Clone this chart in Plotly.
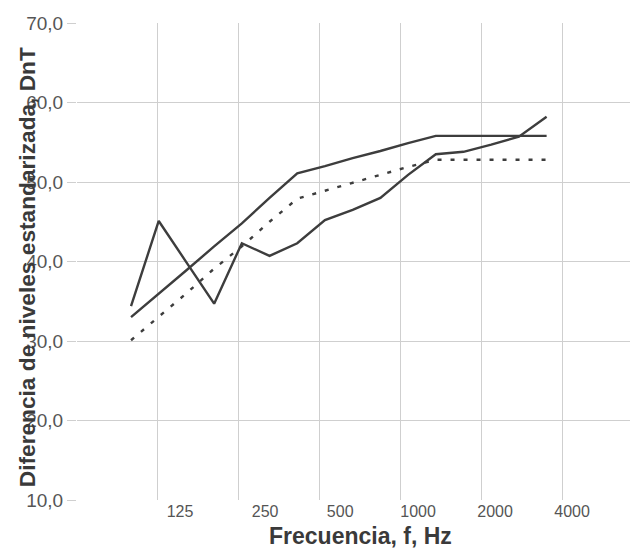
import plotly.graph_objects as go

# Third-octave band index (100 Hz ... 3150 Hz)
bands = ["100", "125", "160", "200", "250", "315", "400", "500",
         "630", "800", "1000", "1250", "1600", "2000", "2500", "3150"]
band_idx = list(range(len(bands)))

# Series values (dB)
medida_a = [34.4, 45.1, 39.9, 34.7, 42.3, 40.7, 42.3, 45.2,
            46.5, 48.0, 50.9, 53.5, 53.8, 54.7, 55.7, 58.2]
medida_b = [33.0, 35.9, 38.9, 41.9, 44.8, 48.0, 51.1, 52.0,
            53.0, 53.9, 54.9, 55.8, 55.8, 55.8, 55.8, 55.8]
referencia = [30.1, 33.0, 36.0, 39.1, 41.9, 45.0, 47.9, 48.9,
              49.9, 50.9, 51.9, 52.8, 52.8, 52.8, 52.8, 52.8]

# Axis tick labels (octave labels as printed under the chart)
xtick_text = ["125", "250", "500", "1000", "2000", "4000"]
xtick_pos = [1.77, 4.84, 7.55, 10.36, 13.14, 15.92]
y_ticks = [10, 20, 30, 40, 50, 60, 70]

FONT = "Liberation Sans, Arial, sans-serif"
LINE = "#3d3d3d"
GRID = "#cfcfcf"
XR = [-1.95, 18.01]

fig = go.Figure()
fig.add_trace(go.Scatter(x=band_idx, y=medida_a, mode="lines",
                         line=dict(color=LINE, width=2.4), showlegend=False))
fig.add_trace(go.Scatter(x=band_idx, y=medida_b, mode="lines",
                         line=dict(color=LINE, width=2.4), showlegend=False))
fig.add_trace(go.Scatter(x=band_idx, y=referencia, mode="lines",
                         line=dict(color=LINE, width=2.4, dash="4px,9px"),
                         showlegend=False))
# invisible trace to activate the label axis
fig.add_trace(go.Scatter(x=[XR[0]], y=[None], xaxis="x2", mode="lines",
                         showlegend=False, hoverinfo="skip"))

fig.update_layout(
    width=630, height=548,
    margin=dict(l=77, r=0, t=23, b=48),
    paper_bgcolor="white", plot_bgcolor="white",
    separators=", ",
    font=dict(family=FONT, color="#555555"),
    xaxis=dict(range=XR, tick0=XR[0], dtick=2.92, showticklabels=False,
               showgrid=True, gridcolor=GRID, gridwidth=1, zeroline=False,
               showline=False, ticks=""),
    xaxis2=dict(range=XR, overlaying="x", side="bottom", anchor="y",
                tickmode="array", tickvals=xtick_pos, ticktext=xtick_text,
                showgrid=False, zeroline=False, showline=False, ticks="",
                tickfont=dict(size=16, color="#555555")),
    yaxis=dict(range=[10, 70], tickmode="array", tickvals=y_ticks,
               tickformat=".1f", showgrid=True, gridcolor=GRID, gridwidth=1,
               zeroline=False, showline=False, ticks="outside", ticklen=9,
               tickcolor=GRID, tickfont=dict(size=19, color="#555555")),
    annotations=[
        dict(text="<b>Diferencia de niveles estandarizada, DnT</b>",
             xref="paper", yref="paper", x=-0.0904, y=0.488,
             xanchor="center", yanchor="middle", textangle=-90,
             showarrow=False, font=dict(size=22.7, color="#3a3a3a", family=FONT)),
        dict(text="<b>Frecuencia, f, Hz</b>",
             xref="paper", yref="paper", x=0.512, y=-0.0755,
             xanchor="center", yanchor="middle",
             showarrow=False, font=dict(size=23, color="#3a3a3a", family=FONT)),
    ],
)

fig.write_html("out.html")
